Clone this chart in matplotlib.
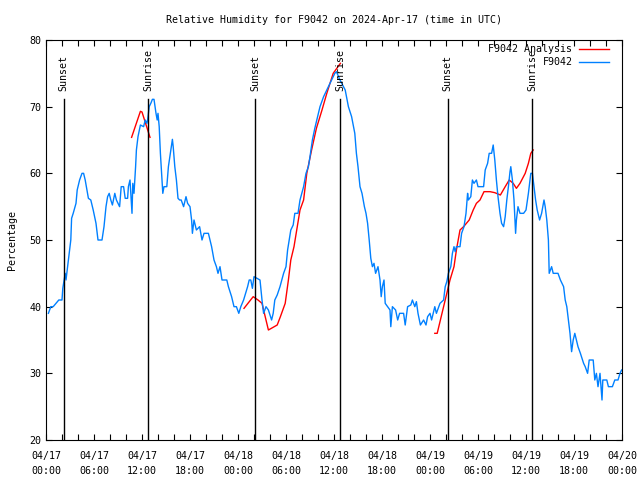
import numpy as np
import matplotlib
matplotlib.use('Agg')
import matplotlib.pyplot as plt

# hours since 2024-04-17 00:00 UTC
obs_hours = [0.3, 0.6, 0.9, 1.6, 2.0, 2.1, 2.4, 2.5, 2.9, 3.1, 3.2, 3.4, 3.75, 3.9, 4.2, 4.5, 4.7, 4.9,
             5.3, 5.6, 5.9, 6.25, 6.5, 7.0, 7.25, 7.5, 7.7, 7.9, 8.1, 8.3, 8.6, 8.8, 9.2, 9.4, 9.7, 9.9,
             10.2, 10.3, 10.5, 10.6, 10.75, 10.85, 11.0, 11.2, 11.3, 11.5, 11.8, 12.2, 12.4, 12.6, 12.7,
             12.9, 13.1, 13.3, 13.5, 13.75, 13.9, 14.0, 14.15, 14.3, 14.6, 14.75, 15.1, 15.3, 15.6, 15.8,
             15.9, 16.1, 16.3, 16.5, 16.7, 16.9, 17.2, 17.5, 17.7, 18.0, 18.2, 18.3, 18.5, 18.8, 19.2,
             19.5, 19.75, 20.3, 20.7, 21.0, 21.3, 21.5, 21.75, 22.0, 22.6, 22.8, 23.2, 23.5, 23.8, 24.1,
             24.35, 24.7, 25.2, 25.4, 25.6, 25.8, 26.0, 26.75, 27.0, 27.2, 27.5, 27.8, 28.2, 28.4, 28.6,
             28.9, 29.25, 29.7, 30.0, 30.2, 30.4, 30.6, 30.9, 31.1, 31.5, 31.75, 32.2, 32.5, 32.8, 33.0,
             33.3, 33.6, 33.95, 34.25, 34.7, 35.1, 35.7, 36.1, 36.3, 36.75, 37.4, 37.8, 38.2, 38.6, 38.8,
             39.0, 39.25, 39.5, 39.8, 40.0, 40.2, 40.4, 40.6, 40.8, 41.0, 41.2, 41.5, 41.75, 41.9, 42.05,
             42.25, 42.4, 42.7, 43.0, 43.1, 43.3, 43.7, 43.96, 44.2, 44.7, 44.9, 45.2, 45.6, 45.8, 46.1,
             46.3, 46.5, 46.8, 47.2, 47.5, 47.7, 48.0, 48.2, 48.6, 48.8, 49.25, 49.7, 49.9, 50.1, 50.3,
             50.6, 50.8, 51.0, 51.15, 51.3, 51.75, 51.95, 52.25, 52.5, 52.7, 52.8, 53.1, 53.3, 53.5,
             53.8, 54.0, 54.7, 54.9, 55.2, 55.4, 55.7, 55.9, 56.1, 56.3, 56.5, 56.75, 56.95, 57.2, 57.4,
             57.6, 57.8, 58.0, 58.1, 58.3, 58.5, 58.7, 58.8, 59.0, 59.25, 59.7, 60.0, 60.3, 60.5, 60.6,
             60.8, 61.0, 61.2, 61.4, 61.7, 61.95, 62.25, 62.4, 62.6, 62.8, 62.9, 63.2, 63.4, 64.0, 64.3,
             64.7, 64.9, 65.1, 65.3, 65.5, 65.7, 65.9, 66.1, 66.3, 66.5, 66.8, 67.2, 67.4, 67.7, 67.9,
             68.4, 68.6, 68.8, 69.0, 69.25, 69.5, 69.6, 70.1, 70.3, 70.8, 71.1, 71.5, 71.75, 71.95]
obs_rh = [39, 40, 40, 41, 41, 42.75, 45, 44, 48, 50, 53.25, 54, 55.5, 57.5, 59, 60, 60, 59,
          56.25, 56, 54.5, 52.5, 50, 50, 52, 55, 56.5, 57, 56, 55.25, 57, 56, 55, 58, 58, 56.25,
          56.25, 58, 59, 57, 54, 58.5, 57, 61, 63.5, 65.5, 67.25, 67, 68, 67.5, 68,
          70, 70.5, 71.1, 71.1, 69, 68, 69, 67, 63, 57, 58, 58, 61, 63.5, 65.1,
          64, 61, 59, 56.25, 56, 56, 55, 56.5, 55.5, 55, 53, 51, 53, 51.5, 52,
          50, 51, 51, 49, 47, 46, 45, 46, 44, 44, 43, 41.5, 40, 40, 39,
          40, 41, 43, 44, 44, 42.75, 44.5, 44, 41, 39, 40, 39.5, 38, 39, 41,
          41.75, 43, 45, 46, 48.5, 50, 51.5, 52.25, 54, 54, 56, 58, 60, 61, 62.5,
          65, 66.75, 68.5, 70, 71.5, 72.5, 74, 75, 75.25, 74, 72.5, 70, 68.5, 66, 63,
          61, 58, 57, 55, 54, 52.5, 50, 47.25, 46, 46.5, 45, 46, 44, 41.5, 43,
          44, 40.5, 40, 39.5, 37, 40, 39.5, 38, 39, 39, 37.25, 40, 40.25, 41, 40,
          40.75, 39, 37.25, 38, 37.25, 38.5, 39, 38, 40, 39, 40.5, 41, 43, 43.75, 45,
          46, 48, 49, 48.25, 49, 49, 51, 52, 54, 57, 56, 56.5, 59, 58.5,
          59, 58, 58, 60.5, 61.5, 63, 63, 64.25, 62, 59, 56.5, 54, 52.5, 52, 53.5,
          56, 58, 60.25, 61, 59, 56, 51, 53, 55, 54, 54, 54.5, 57, 59, 60,
          60, 58, 56, 54.5, 53, 54, 56, 55, 53, 50, 45, 46, 45, 45, 44,
          43, 41, 40, 38, 36, 33.25, 35, 36, 35, 34, 33, 31.5, 31, 30, 32,
          32, 29, 30, 28, 30, 26, 29, 29, 28, 28, 29, 29, 30, 30.5]

ana_hours = [10.7, 11.8, 12.0, 13.0, np.nan,
             24.75, 25.9, 26.5, 27.0, 27.8, 28.9, 29.3, 29.9, 30.3, 30.6, 31.0, 31.75, 32.2, 32.6,
             33.2, 33.8, 34.5, 35.1, 35.9, 36.8, np.nan,
             48.6, 48.9, 49.25, 49.9, 50.5, 51.0, 51.3, 51.75, 52.2, 52.9, 53.4, 53.8, 54.25, 54.75,
             55.5, 56.1, 56.8, 57.4, 57.9, 58.4, 58.8, 59.25, 59.9, 60.3, 60.6, 60.9]
ana_rh = [65.4, 69.3, 69.2, 65.4, np.nan,
          39.75, 41.5, 41.0, 40.5, 36.5, 37.25, 38.5, 40.5, 44, 47, 49, 54.5, 56, 60,
          63.5, 66.75, 69.5, 72, 75, 76.5, np.nan,
          36, 36, 37.75, 41, 44, 46, 48.5, 51.5, 52, 53, 54.5, 55.5, 56, 57.25,
          57.25, 57.1, 56.75, 58, 59, 58.5, 57.75, 58.5, 60, 61.5, 63, 63.5]

sun_hours = [2.2, 12.8, 26.15, 36.8, 50.2, 60.8]
sun_labels = ['Sunset', 'Sunrise', 'Sunset', 'Sunrise', 'Sunset', 'Sunrise']

tick_hours = list(range(0, 73, 6))
tick_labels = ['04/17\n00:00', '04/17\n06:00', '04/17\n12:00', '04/17\n18:00',
               '04/18\n00:00', '04/18\n06:00', '04/18\n12:00', '04/18\n18:00',
               '04/19\n00:00', '04/19\n06:00', '04/19\n12:00', '04/19\n18:00',
               '04/20\n00:00']

plt.rcParams['font.family'] = ['DejaVu Sans Mono']
fs = 7.2

fig = plt.figure(figsize=(6.4, 4.8), dpi=100)
ax = fig.add_axes([46/640, 40/480, 576/640, 400/480])

ax.plot(ana_hours, ana_rh, color='#ff0000', lw=1.0, label='F9042 Analysis')
ax.plot(obs_hours, obs_rh, color='#0080ff', lw=1.0, label='F9042')

for h, lab in zip(sun_hours, sun_labels):
    ax.plot([h, h], [20, 71.2], color='black', lw=1.0)
    ax.text(h, 72.3, lab, rotation=90, ha='center', va='bottom', fontsize=fs)

ax.set_xlim(0, 72)
ax.set_ylim(20, 80)
ax.set_xticks(tick_hours)
ax.set_xticklabels(tick_labels, fontsize=fs, linespacing=1.6)
ax.set_xticks(range(0, 73, 2), minor=True)
ax.set_yticks(range(20, 81, 10))
ax.tick_params(axis='y', labelsize=fs)
ax.tick_params(which='both', direction='in', top=True, right=True, length=4, width=0.8)
ax.tick_params(axis='x', pad=8)
for s in ax.spines.values():
    s.set_linewidth(0.8)

ax.set_title('Relative Humidity for F9042 on 2024-Apr-17 (time in UTC)', fontsize=fs, pad=12)
ax.set_ylabel('Percentage', fontsize=fs, labelpad=9)

ax.legend(loc='upper right', bbox_to_anchor=(1 - 9/576, 1), frameon=False, fontsize=fs,
          markerfirst=False, handlelength=3.0, handletextpad=0.6, labelspacing=0.3,
          borderaxespad=0.0, borderpad=0.45)

fig.savefig('out.png', dpi=100)
